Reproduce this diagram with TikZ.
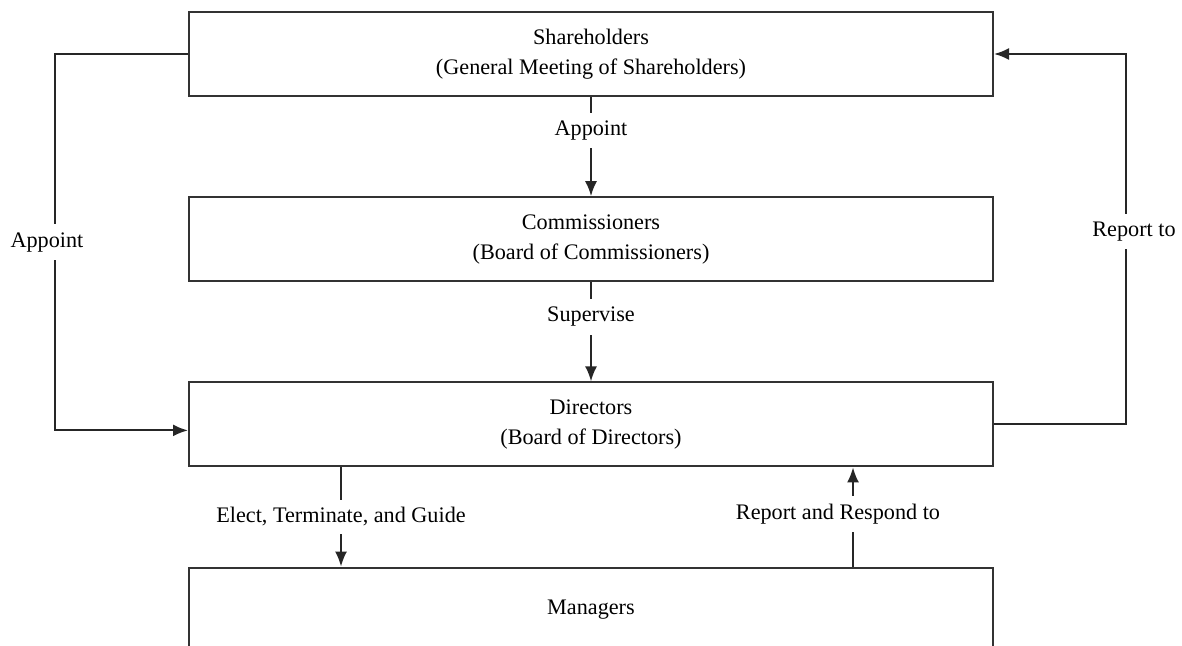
\documentclass[tikz,border=0pt]{standalone}
\usepackage{fontspec}
\setmainfont{Liberation Serif}
\usetikzlibrary{positioning, arrows.meta}
\definecolor{boxgray}{RGB}{51, 51, 51}
\tikzset{
  org/.style={rectangle, draw=boxgray, line width=1pt, fill=white,
    minimum width=402pt, minimum height=42pt, align=center, inner sep=2pt,
    font=\fontsize{11.1}{15}\selectfont},
  rel/.style={-{Latex[length=7.5pt, width=6pt]}, line width=1pt, black!85},
  tag/.style={fill=white, inner sep=4pt, text=black, font=\fontsize{11.1}{13}\selectfont},
}
\begin{document}
\begin{tikzpicture}[x=0.5pt, y=-0.5pt, node distance=49.6pt]
    \useasboundingbox (0,0) rectangle (1182,646);
    \node[org] (share) at (591,54) {Shareholders\\(General Meeting of Shareholders)};
    \node[org, below=of share] (comm) {Commissioners\\(Board of Commissioners)};
    \node[org, below=of comm] (dir) {Directors\\(Board of Directors)};
    \node[org, below=of dir] (mgr) {Managers};
    \coordinate (lrail) at (55,0);
    \coordinate (rrail) at (1126,0);
    \coordinate (down) at (341,0);
    \coordinate (up) at (853,0);
    \draw[rel] (share) -- node[tag, pos=0.34] {Appoint} (comm);
    \draw[rel] (comm) -- node[tag, pos=0.35] {Supervise} (dir);
    \draw[rel] (share.west) -- (share.west -| lrail)
      -- node[tag, pos=0.5, xshift=-4pt] {Appoint} ([yshift=-3pt]dir.west -| lrail)
      -- ([yshift=-3pt]dir.west);
    \draw[rel] (dir.east) -- (dir.east -| rrail)
      -- node[tag, pos=0.52, xshift=4pt] {Report to} (share.east -| rrail)
      -- (share.east);
    \draw[rel] (dir.south -| down) -- node[tag] {Elect, Terminate, and Guide} (mgr.north -| down);
    \draw[rel] (mgr.north -| up) -- node[tag, pos=0.53, xshift=-7.5pt] {Report and Respond to} (dir.south -| up);
  \end{tikzpicture}
\end{document}
